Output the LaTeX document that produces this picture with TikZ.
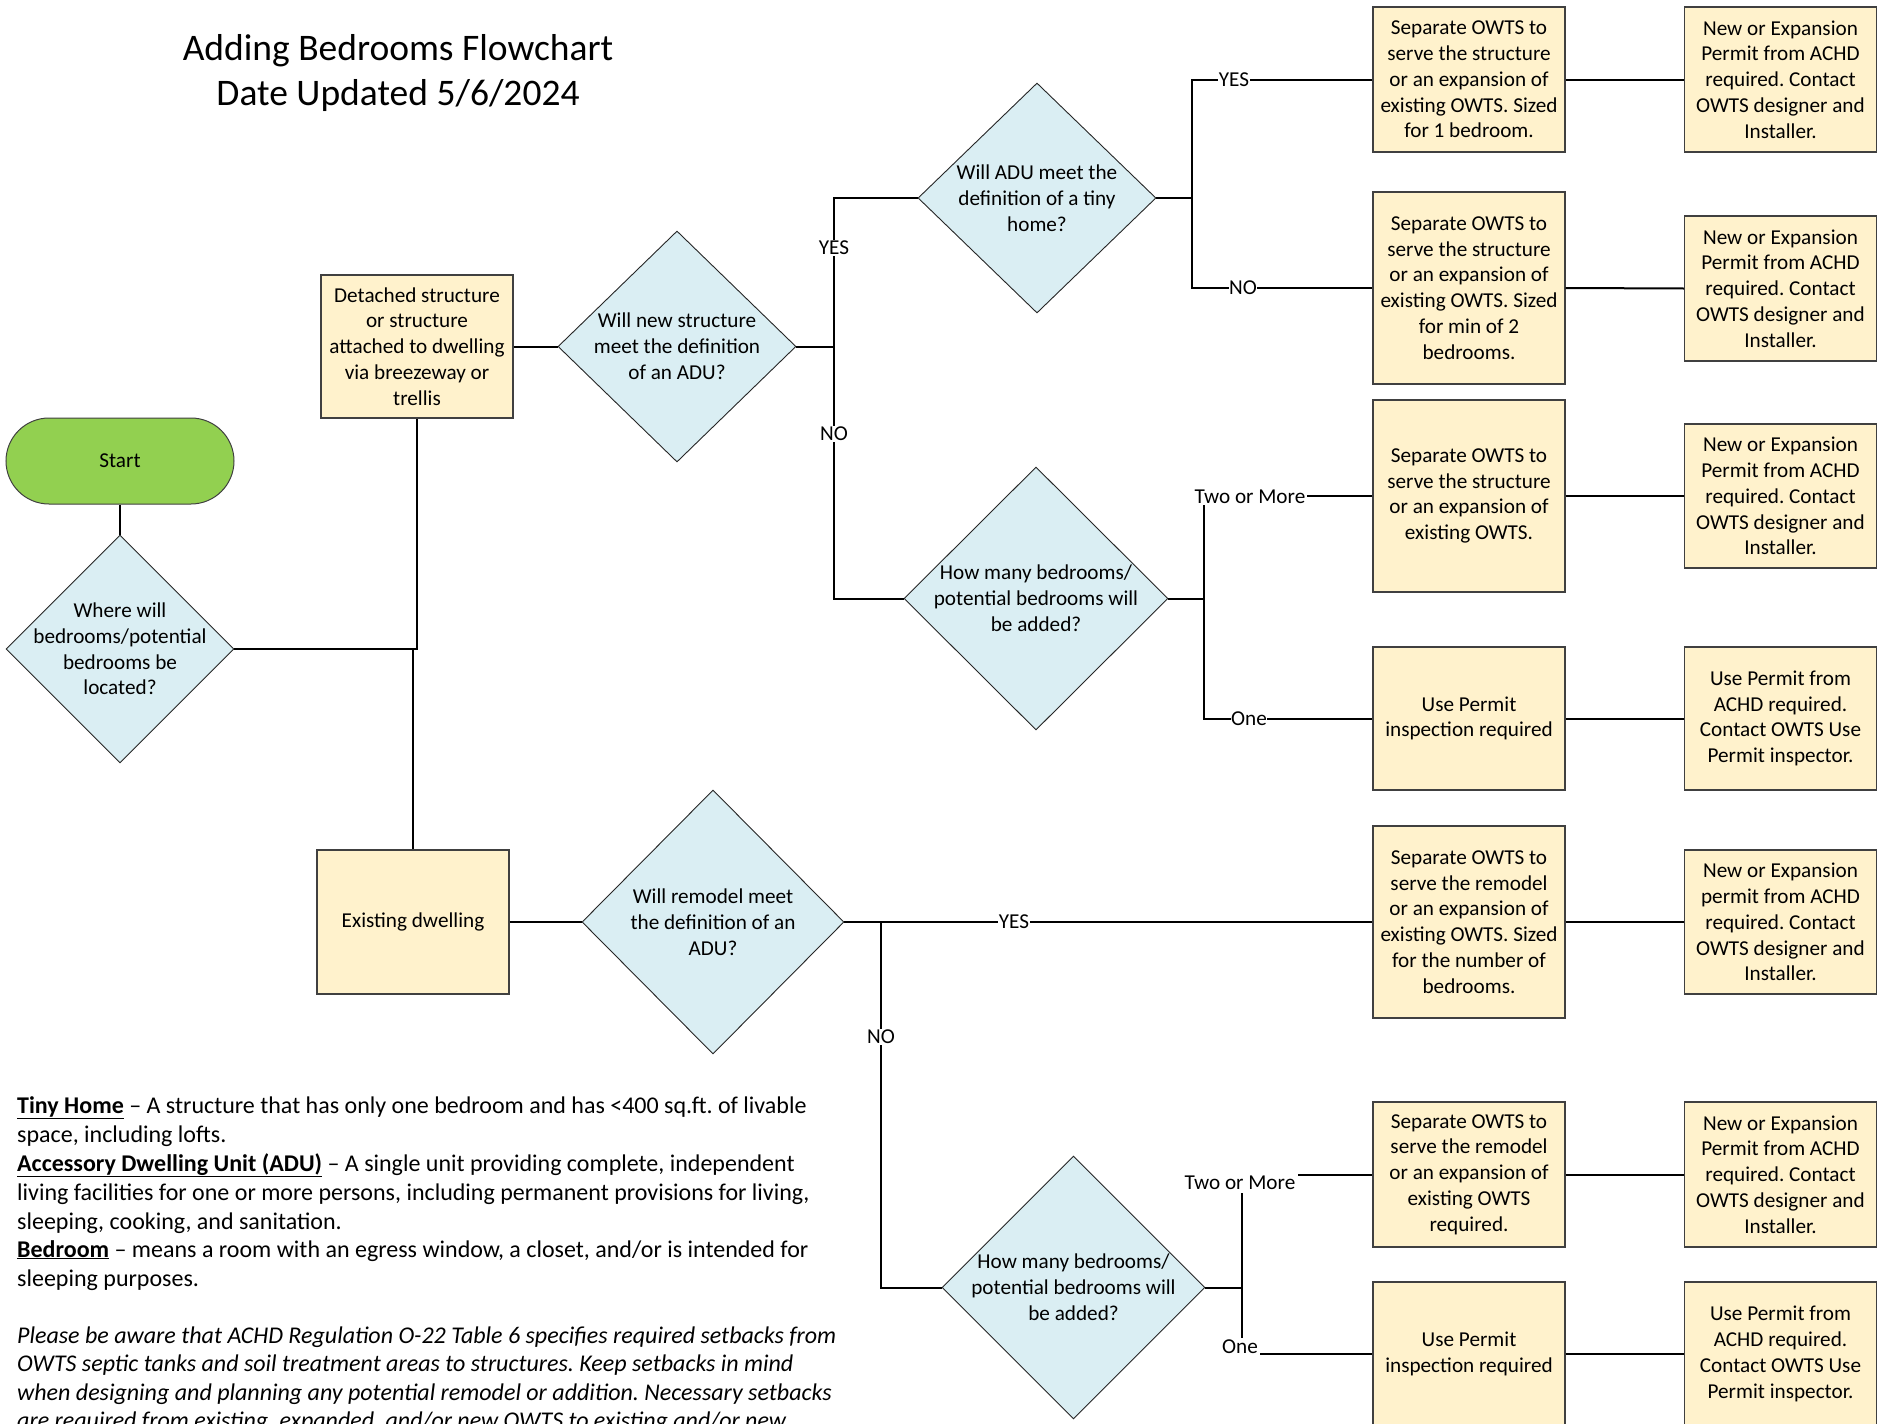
\documentclass[tikz,border=0pt]{standalone}
\usepackage{fontspec}
\setmainfont{Carlito}
\usetikzlibrary{shapes.geometric}
\definecolor{boxfill}{HTML}{FFF2CC}
\definecolor{diafill}{HTML}{DAEEF3}
\definecolor{startfill}{HTML}{92D050}
\definecolor{edge}{HTML}{404040}
\frenchspacing
\tikzset{
  txt/.style={font=\fontsize{21.2}{25.8}\selectfont, align=center},
  stepbox/.style={txt, draw=edge, line width=1.4, fill=boxfill, inner sep=0, minimum width=192},
  dia/.style={diamond, draw=black!85, line width=0.9, fill=diafill, inner sep=0},
  diatext/.style={txt, inner sep=0},
  conn/.style={line width=2, black},
  lbl/.style={font=\fontsize{21.2}{25.8}\selectfont, fill=white, inner sep=1.5},
  note/.style={font=\fontsize{24}{29}\selectfont, anchor=base west, inner sep=0},
  inote/.style={note, font=\fontsize{24}{29}\selectfont\itshape},
  ttl/.style={font=\fontsize{37.5}{45}\selectfont, inner sep=0}
}
\begin{document}
\begin{tikzpicture}[x=1pt,y=-1pt]
\useasboundingbox[fill=white] (0,0) rectangle (1880,1424);

% title
\node[ttl] (t1) at (398,51) {Adding Bedrooms Flowchart};
\node[ttl] (t2) at (398,96) {Date Updated 5/6/2024};

% start + first decision
\node[txt, draw=edge, line width=1, fill=startfill, minimum width=228, minimum height=86, rounded corners=43, inner sep=0] (start) at (120,461) {Start};
\node[dia, minimum width=228, minimum height=228] (d0) at (120,649) {};
\node[diatext] at (d0) {Where will\\bedrooms/potential\\bedrooms be\\located?};

% left column boxes
\node[stepbox, minimum height=143] (bdet) at (417,346.5) {Detached structure\\or structure\\attached to dwelling\\via breezeway or\\trellis};
\node[stepbox, minimum height=144] (bex) at (413,922) {Existing dwelling};

% decisions
\node[dia, minimum width=238, minimum height=231] (d1) at (677,346.5) {};
\node[diatext] at (d1) {Will new structure\\meet the definition\\of an ADU?};
\node[dia, minimum width=238, minimum height=230] (d2) at (1037,198) {};
\node[diatext] at (d2) {Will ADU meet the\\definition of a tiny\\home?};
\node[dia, minimum width=264, minimum height=263] (d3) at (1036,598.5) {};
\node[diatext] at (d3) {How many bedrooms/\\potential bedrooms will\\be added?};
\node[dia, minimum width=262, minimum height=264] (d4) at (713,922) {};
\node[diatext] at (d4) {Will remodel meet\\the definition of an\\ADU?};
\node[dia, minimum width=263, minimum height=263] (d5) at (1073.5,1287.5) {};
\node[diatext] at (d5) {How many bedrooms/\\potential bedrooms will\\be added?};

% right boxes, column 1
\node[stepbox, minimum height=145] (a1) at (1469,79.5) {Separate OWTS to\\serve the structure\\or an expansion of\\existing OWTS. Sized\\for 1 bedroom.};
\node[stepbox, minimum height=192] (b1) at (1469,288) {Separate OWTS to\\serve the structure\\or an expansion of\\existing OWTS. Sized\\for min of 2\\bedrooms.};
\node[stepbox, minimum height=192] (c1) at (1469,496) {Separate OWTS to\\serve the structure\\or an expansion of\\existing OWTS.};
\node[stepbox, minimum height=143] (e1b) at (1469,718.5) {Use Permit\\inspection required};
\node[stepbox, minimum height=192] (f1) at (1469,922) {Separate OWTS to\\serve the remodel\\or an expansion of\\existing OWTS. Sized\\for the number of\\bedrooms.};
\node[stepbox, minimum height=145] (g1) at (1469,1174.5) {Separate OWTS to\\serve the remodel\\or an expansion of\\existing OWTS\\required.};
\node[stepbox, minimum height=144] (h1) at (1469,1354) {Use Permit\\inspection required};

% right boxes, column 2
\node[stepbox, minimum height=145] (a2) at (1780.5,79.5) {New or Expansion\\Permit from ACHD\\required. Contact\\OWTS designer and\\Installer.};
\node[stepbox, minimum height=145] (b2) at (1780.5,288.5) {New or Expansion\\Permit from ACHD\\required. Contact\\OWTS designer and\\Installer.};
\node[stepbox, minimum height=144] (c2) at (1780.5,496) {New or Expansion\\Permit from ACHD\\required. Contact\\OWTS designer and\\Installer.};
\node[stepbox, minimum height=143] (e2b) at (1780.5,718.5) {Use Permit from\\ACHD required.\\Contact OWTS Use\\Permit inspector.};
\node[stepbox, minimum height=144] (f2) at (1780.5,922) {New or Expansion\\permit from ACHD\\required. Contact\\OWTS designer and\\Installer.};
\node[stepbox, minimum height=145] (g2) at (1780.5,1174.5) {New or Expansion\\Permit from ACHD\\required. Contact\\OWTS designer and\\Installer.};
\node[stepbox, minimum height=144] (h2) at (1780.5,1354) {Use Permit from\\ACHD required.\\Contact OWTS Use\\Permit inspector.};

% junction coordinates
\coordinate (j1) at (834,346.5);
\coordinate (j2) at (1192,198);
\coordinate (j3) at (1204,598.5);
\coordinate (j4) at (881,922);
\coordinate (j5) at (1242,1287.5);

% connectors
\draw[conn] (start.south) -- (d0.north);
\draw[conn] (d0.east) -| (bdet.south);
\draw[conn] (d0.east) -| (bex.north);
\draw[conn] (bdet.east) -- (d1.west);
\draw[conn] (d1.east) -- (j1) |- (d2.west);
\draw[conn] (j1) |- (d3.west);
\draw[conn] (d2.east) -- (j2) |- (a1.west);
\draw[conn] (j2) |- (b1.west);
\draw[conn] (d3.east) -- (j3) |- (c1.west);
\draw[conn] (j3) |- (e1b.west);
\draw[conn] (bex.east) -- (d4.west);
\draw[conn] (d4.east) -- (f1.west);
\draw[conn] (j4) |- (d5.west);
\draw[conn] (d5.east) -- (j5) |- (g1.west);
\draw[conn] (j5) |- (h1.west);
\draw[conn] (a1.east) -- (a2.west);
\draw[conn] (b1.east) -- (b2.west);
\draw[conn] (c1.east) -- (c2.west);
\draw[conn] (e1b.east) -- (e2b.west);
\draw[conn] (f1.east) -- (f2.west);
\draw[conn] (g1.east) -- (g2.west);
\draw[conn] (h1.east) -- (h2.west);

% connector labels
\node[lbl] (l1) at (834,248) {YES};
\node[lbl] (l2) at (834,434) {NO};
\node[lbl, inner sep=0.5] (l3) at (1234,80) {YES};
\node[lbl, inner sep=0.5] (l4) at (1243,288) {NO};
\node[lbl] (l5) at (1250,497) {Two or More};
\node[lbl, inner sep=0.5] (l6) at (1249,718.5) {One};
\node[lbl, inner sep=0.5] (l7) at (1014,922) {YES};
\node[lbl] (l8) at (881,1037) {NO};
\node[lbl, inner sep=3] (l9) at (1240,1183) {Two or More};
\node[lbl, inner sep=2] (l10) at (1240,1347) {One};

% notes
\node[note] (n1) at (17,1113) {\underline{\textbf{Tiny Home}} – A structure that has only one bedroom and has <400 sq.ft. of livable};
\node[note] (n2) at (17,1142) {space, including lofts.};
\node[note] (n3) at (17,1171) {\underline{\textbf{Accessory Dwelling Unit (ADU)}} – A single unit providing complete, independent};
\node[note] (n4) at (17,1200) {living facilities for one or more persons, including permanent provisions for living,};
\node[note] (n5) at (17,1229) {sleeping, cooking, and sanitation.};
\node[note] (n6) at (17,1257) {\underline{\textbf{Bedroom}} – means a room with an egress window, a closet, and/or is intended for};
\node[note] (n7) at (17,1286) {sleeping purposes.};
\node[inote] (n8) at (17,1343) {Please be aware that ACHD Regulation O-22 Table 6 specifies required setbacks from};
\node[inote] (n9) at (17,1371) {OWTS septic tanks and soil treatment areas to structures. Keep setbacks in mind};
\node[inote] (n10) at (17,1400) {when designing and planning any potential remodel or addition. Necessary setbacks};
\node[inote] (n11) at (17,1428) {are required from existing, expanded, and/or new OWTS to existing and/or new};
\end{tikzpicture}
\end{document}
